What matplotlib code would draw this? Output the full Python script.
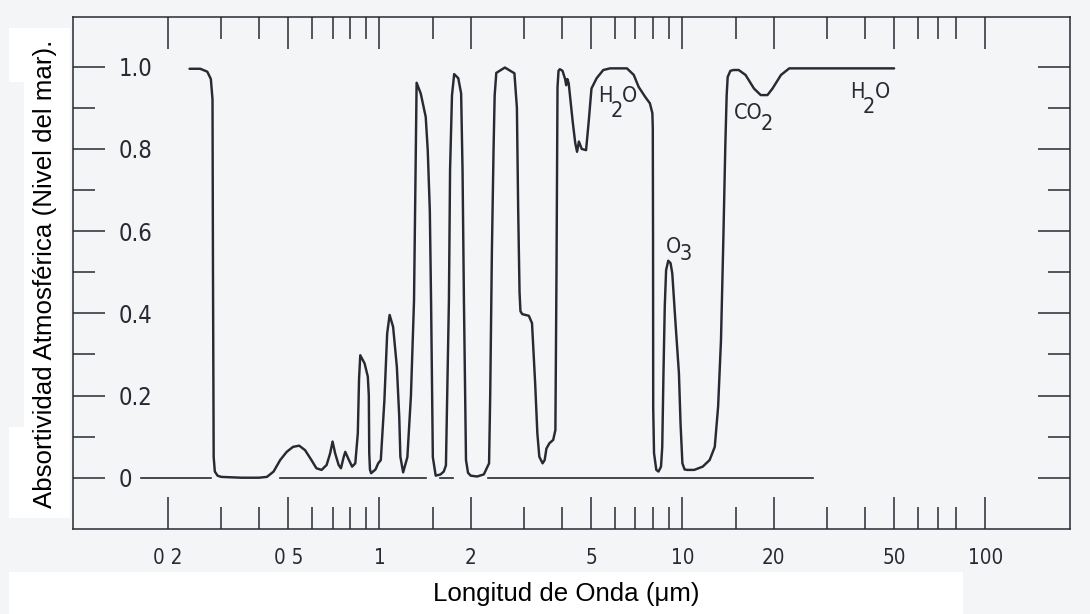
import numpy as np
import matplotlib.pyplot as plt
from matplotlib.patches import Rectangle
from matplotlib.ticker import FixedLocator, FixedFormatter, NullFormatter

# sea-level atmospheric absorptivity: (wavelength in um, absorptivity)
spectrum = [
    (0.236, 0.995), (0.256, 0.995), (0.270, 0.988), (0.2775, 0.970), (0.281, 0.920),
    (0.282, 0.500), (0.2835, 0.050), (0.286, 0.015), (0.292, 0.005), (0.30, 0.002),
    (0.35, 0.0), (0.40, 0.0), (0.425, 0.002), (0.447, 0.015), (0.470, 0.043),
    (0.494, 0.063), (0.518, 0.075), (0.543, 0.078), (0.568, 0.067), (0.596, 0.043),
    (0.619, 0.023), (0.644, 0.019), (0.669, 0.031), (0.687, 0.059), (0.700, 0.088),
    (0.714, 0.059), (0.733, 0.031), (0.746, 0.023), (0.762, 0.051), (0.771, 0.063),
    (0.788, 0.047), (0.812, 0.027), (0.832, 0.035), (0.848, 0.108), (0.856, 0.240),
    (0.864, 0.298), (0.893, 0.278), (0.915, 0.246), (0.922, 0.200), (0.925, 0.060),
    (0.930, 0.020), (0.938, 0.011), (0.970, 0.020), (0.990, 0.035), (1.010, 0.043),
    (1.038, 0.189), (1.060, 0.351), (1.080, 0.396), (1.109, 0.367), (1.141, 0.270),
    (1.162, 0.148), (1.172, 0.051), (1.197, 0.013), (1.236, 0.050), (1.270, 0.200),
    (1.300, 0.430), (1.316, 0.750), (1.326, 0.961), (1.368, 0.935), (1.421, 0.878),
    (1.443, 0.797), (1.466, 0.650), (1.480, 0.430), (1.500, 0.050), (1.533, 0.005),
    (1.590, 0.008), (1.630, 0.015), (1.657, 0.030), (1.695, 0.430), (1.710, 0.750),
    (1.735, 0.930), (1.764, 0.982), (1.820, 0.972), (1.860, 0.935), (1.880, 0.749),
    (1.900, 0.430), (1.930, 0.043), (1.960, 0.012), (2.00, 0.005), (2.10, 0.003),
    (2.21, 0.008), (2.30, 0.035), (2.32, 0.200), (2.35, 0.550), (2.38, 0.800),
    (2.40, 0.930), (2.43, 0.985), (2.594, 0.998), (2.789, 0.984), (2.842, 0.900),
    (2.870, 0.650), (2.900, 0.450), (2.920, 0.405), (2.960, 0.398), (3.112, 0.394),
    (3.188, 0.376), (3.265, 0.230), (3.320, 0.108), (3.370, 0.051), (3.455, 0.035),
    (3.510, 0.043), (3.557, 0.071), (3.640, 0.084), (3.745, 0.092), (3.808, 0.116),
    (3.840, 0.500), (3.870, 0.950), (3.900, 0.990), (3.940, 0.994), (4.020, 0.990),
    (4.100, 0.970), (4.134, 0.955), (4.170, 0.970), (4.213, 0.960), (4.344, 0.866),
    (4.429, 0.814), (4.490, 0.793), (4.553, 0.818), (4.652, 0.800), (4.808, 0.797),
    (4.905, 0.866), (5.010, 0.947), (5.210, 0.972), (5.480, 0.992), (5.770, 0.996),
    (6.560, 0.996), (6.910, 0.980), (7.170, 0.951), (7.530, 0.927), (7.810, 0.911),
    (7.960, 0.887), (7.985, 0.850), (8.000, 0.580), (8.010, 0.170), (8.060, 0.060),
    (8.200, 0.019), (8.340, 0.015), (8.500, 0.027), (8.580, 0.075), (8.660, 0.254),
    (8.745, 0.416), (8.835, 0.505), (8.980, 0.528), (9.140, 0.522), (9.260, 0.497),
    (9.490, 0.376), (9.740, 0.254), (9.860, 0.132), (10.00, 0.035), (10.17, 0.020),
    (10.38, 0.019), (10.94, 0.019), (11.67, 0.027), (12.30, 0.043), (12.79, 0.075),
    (13.12, 0.173), (13.41, 0.335), (13.57, 0.497), (13.65, 0.578), (13.86, 0.810),
    (14.00, 0.930), (14.11, 0.975), (14.40, 0.990), (14.76, 0.992), (15.34, 0.992),
    (16.16, 0.980), (17.23, 0.947), (18.14, 0.931), (19.09, 0.931), (19.84, 0.947),
    (21.16, 0.980), (22.53, 0.996), (50.0, 0.996),
]

# zero reference line, drawn in pieces (start, end wavelength)
baseline_segments = [(0.163, 0.278), (0.468, 1.42), (1.59, 1.745), (2.28, 27.0)]

x_major = [0.2, 0.5, 1, 2, 5, 10, 20, 50, 100]
x_major_labels = ['0 2', '0 5', '1', '2', '5', '10', '20', '50', '100']
x_minor = [0.3, 0.4, 0.6, 0.7, 0.8, 0.9, 1.5, 3, 4, 6, 7, 8, 9, 15, 30, 40, 60, 70, 80]
y_major = [0, 0.2, 0.4, 0.6, 0.8, 1.0]
y_major_labels = ['0', '0.2', '0.4', '0.6', '0.8', '1.0']
y_minor = [0.1, 0.3, 0.5, 0.7, 0.9]

# gas labels: base, subscript, tail, wavelength, absorptivity
gases = [
    ('H', '2', 'O', 5.28, 0.915),
    ('O', '3', '', 8.79, 0.546),
    ('CO', '2', '', 14.76, 0.874),
    ('H', '2', 'O', 35.9, 0.923),
]
# subscript offset and tail offset in points, per label
gas_offsets = [((8.6, -10.8), 16.6), ((10.0, -4.8), 0), ((19.6, -8.4), 0), ((9.0, -10.8), 17.2)]

ink = '#272a33'
paper = '#f4f5f7'
tick_font = dict(family='DejaVu Sans', stretch='condensed')

fig = plt.figure(figsize=(10.9, 6.14), dpi=100, facecolor=paper)

# white paste-up areas behind the axis titles
for x0, y0, w, h in [(9, 572, 954, 42), (24, 28, 46, 490), (9, 28, 15, 54), (9, 427, 15, 91)]:
    fig.patches.append(Rectangle((x0 / 1090, 1 - (y0 + h) / 614), w / 1090, h / 614,
                                 transform=fig.transFigure, facecolor='white',
                                 edgecolor='none', zorder=-1))

ax = fig.add_axes([73 / 1090, 1 - 529.3 / 614, 997 / 1090, 512.6 / 614])
ax.set_facecolor('none')

wl = np.array([p[0] for p in spectrum])
ab = np.array([p[1] for p in spectrum])
ax.plot(wl, ab, color=ink, lw=1.75, solid_joinstyle='round', solid_capstyle='round')

for start, end in baseline_segments:
    ax.plot([start, end], [0, 0], color=ink, lw=1.2)

ax.set_xscale('log')
ax.set_xlim(0.0973, 190.4)
ax.set_ylim(-0.1255, 1.1217)

ax.xaxis.set_major_locator(FixedLocator(x_major))
ax.xaxis.set_major_formatter(FixedFormatter(x_major_labels))
ax.xaxis.set_minor_locator(FixedLocator(x_minor))
ax.xaxis.set_minor_formatter(NullFormatter())
ax.yaxis.set_major_locator(FixedLocator(y_major))
ax.yaxis.set_major_formatter(FixedFormatter(y_major_labels))
ax.yaxis.set_minor_locator(FixedLocator(y_minor))

ax.tick_params(which='both', direction='in', top=True, right=True, color=ink, width=1.1)
ax.tick_params(which='major', length=23)
ax.tick_params(which='minor', length=15.8)
ax.tick_params(axis='x', which='major', pad=13.5, labelsize=14.8, labelcolor=ink)
ax.tick_params(axis='y', which='major', pad=-33, labelsize=17, labelcolor=ink)
for lbl in ax.get_xticklabels() + ax.get_yticklabels():
    lbl.set_fontfamily(tick_font['family'])
    lbl.set_fontstretch(tick_font['stretch'])
for lbl in ax.get_yticklabels():
    lbl.set_horizontalalignment('left')

for side in ax.spines.values():
    side.set_color(ink)
    side.set_linewidth(1.1)

for (base, sub, tail, x, y), ((sdx, sdy), tdx) in zip(gases, gas_offsets):
    style = dict(xycoords='data', textcoords='offset points', fontsize=15.5,
                 color=ink, ha='left', va='baseline', **tick_font)
    ax.annotate(base, (x, y), xytext=(0, 0), **style)
    ax.annotate(sub, (x, y), xytext=(sdx, sdy), **style)
    if tail:
        ax.annotate(tail, (x, y), xytext=(tdx, 0), **style)

ax.set_xlabel('Longitud de Onda (μm)', family='Liberation Sans', fontsize=18.6, va='top')
ax.xaxis.set_label_coords(0.4945, -0.103)
ax.set_ylabel('Absortividad Atmosférica (Nivel del mar).', family='Liberation Sans',
              fontsize=18.6, va='center')
ax.yaxis.set_label_coords(-0.0281, 0.499)

fig.savefig('out.png', dpi=100, facecolor=paper)
